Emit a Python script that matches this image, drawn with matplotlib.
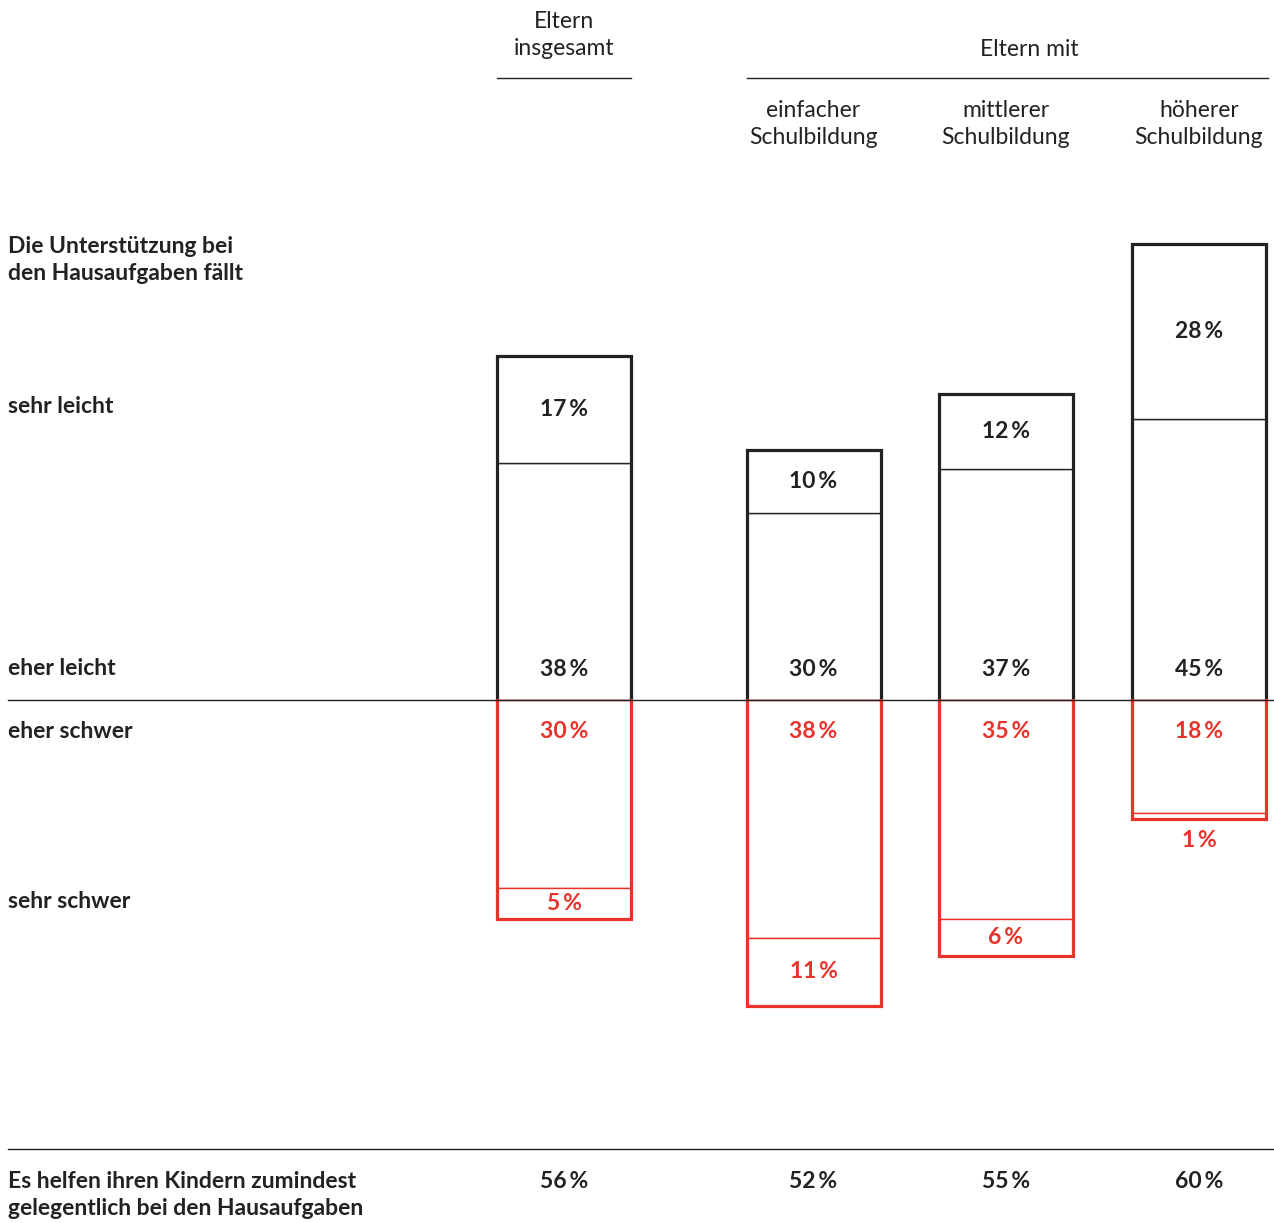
import numpy as np
import matplotlib
matplotlib.use("Agg")
import matplotlib.pyplot as plt

# data (percent)
groups = ["Eltern insgesamt", "einfacher Schulbildung", "mittlerer Schulbildung", "höherer Schulbildung"]
sehr_leicht = [17, 10, 12, 28]
eher_leicht = [38, 30, 37, 45]
eher_schwer = [30, 38, 35, 18]
sehr_schwer = [5, 11, 6, 1]
helfen = [56, 52, 55, 60]

W, H = 1274, 1223
BASE = 700          # baseline pixel row
PXPCT = 6.25        # pixels per percent
xpos = np.array([564, 813.5, 1006, 1199])
bw = 134

DARK = "#222222"
RED = "#e8322a"
FONT = ["Lato", "DejaVu Sans"]
FS = 16.5
LS = 1.38

plt.rcParams["font.family"] = FONT

fig = plt.figure(figsize=(W / 100, H / 100), dpi=100)
ax = fig.add_axes([0, 0, 1, 1])
ax.set_xlim(0, W)
ax.set_ylim(-(H - BASE) / PXPCT, BASE / PXPCT)
ax.axis("off")


def fy(p):
    return 1 - p / H


sl = np.array(sehr_leicht)
el = np.array(eher_leicht)
es = np.array(eher_schwer)
ss = np.array(sehr_schwer)

# segments with thin dividers
ax.bar(xpos, el, bw, bottom=0, color="white", edgecolor=DARK, lw=1.0, zorder=2)
ax.bar(xpos, sl, bw, bottom=el, color="white", edgecolor=DARK, lw=1.0, zorder=2)
ax.bar(xpos, -es, bw, bottom=0, color="white", edgecolor=RED, lw=1.0, zorder=2)
ax.bar(xpos, -ss, bw, bottom=-es, color="white", edgecolor=RED, lw=1.0, zorder=2)

# thick outer outline (open at baseline)
for x, top, bot in zip(xpos, el + sl, -(es + ss)):
    l, r = x - bw / 2, x + bw / 2
    ax.plot([l, l, r, r], [0, top, top, 0], color=DARK, lw=2.3,
            solid_joinstyle="miter", zorder=3)
    ax.plot([l, l, r, r], [0, bot, bot, 0], color=RED, lw=2.3,
            solid_joinstyle="miter", zorder=3)

ax.axhline(0, xmin=8 / W, xmax=1, color=DARK, lw=1.0, zorder=4)

# value labels
off = 31 / PXPCT
for x, a, b, c, d in zip(xpos, sehr_leicht, eher_leicht, eher_schwer, sehr_schwer):
    ax.text(x, b + a / 2, f"{a}\u2009%", ha="center", va="center", fontsize=FS,
            fontweight="bold", color=DARK, zorder=5)
    ax.text(x, off, f"{b}\u2009%", ha="center", va="center", fontsize=FS,
            fontweight="bold", color=DARK, zorder=5)
    ax.text(x, -off, f"{c}\u2009%", ha="center", va="center", fontsize=FS,
            fontweight="bold", color=RED, zorder=5)
    if d >= 3:
        ax.text(x, -c - d / 2, f"{d}\u2009%", ha="center", va="center", fontsize=FS,
                fontweight="bold", color=RED, zorder=5)
    else:
        ax.text(x, -c - d - 22 / PXPCT, f"{d}\u2009%", ha="center", va="center",
                fontsize=FS, fontweight="bold", color=RED, zorder=5)

# headers
fig.text(564 / W, fy(35), "Eltern\ninsgesamt", ha="center", va="center",
         fontsize=FS, color=DARK, linespacing=LS)
fig.text(1029 / W, fy(49), "Eltern mit", ha="center", va="center",
         fontsize=FS, color=DARK)
ax.add_line(plt.Line2D([497 / W, 631 / W], [fy(78), fy(78)], transform=fig.transFigure,
                       color=DARK, lw=1.0))
ax.add_line(plt.Line2D([747 / W, 1268 / W], [fy(78), fy(78)], transform=fig.transFigure,
                       color=DARK, lw=1.0))
for x, g in zip(xpos[1:], groups[1:]):
    fig.text(x / W, fy(124), g.replace(" ", "\n"), ha="center", va="center",
             fontsize=FS, color=DARK, linespacing=LS)

# row labels
rows = [("Die Unterstützung bei\nden Hausaufgaben fällt", 260),
        ("sehr leicht", 407), ("eher leicht", 668),
        ("eher schwer", 731), ("sehr schwer", 902)]
for t, p in rows:
    fig.text(8 / W, fy(p), t, ha="left", va="center", fontsize=FS,
             fontweight="bold", color=DARK, linespacing=LS)

# bottom row
ax.add_line(plt.Line2D([8 / W, 1], [fy(1149), fy(1149)], transform=fig.transFigure,
                       color=DARK, lw=1.0))
fig.text(8 / W, fy(1195), "Es helfen ihren Kindern zumindest\ngelegentlich bei den Hausaufgaben",
         ha="left", va="center", fontsize=FS, fontweight="bold", color=DARK, linespacing=LS)
for x, v in zip(xpos, helfen):
    fig.text(x / W, fy(1181), f"{v}\u2009%", ha="center", va="center", fontsize=FS,
             fontweight="bold", color=DARK)

fig.savefig("out.png", dpi=100)
